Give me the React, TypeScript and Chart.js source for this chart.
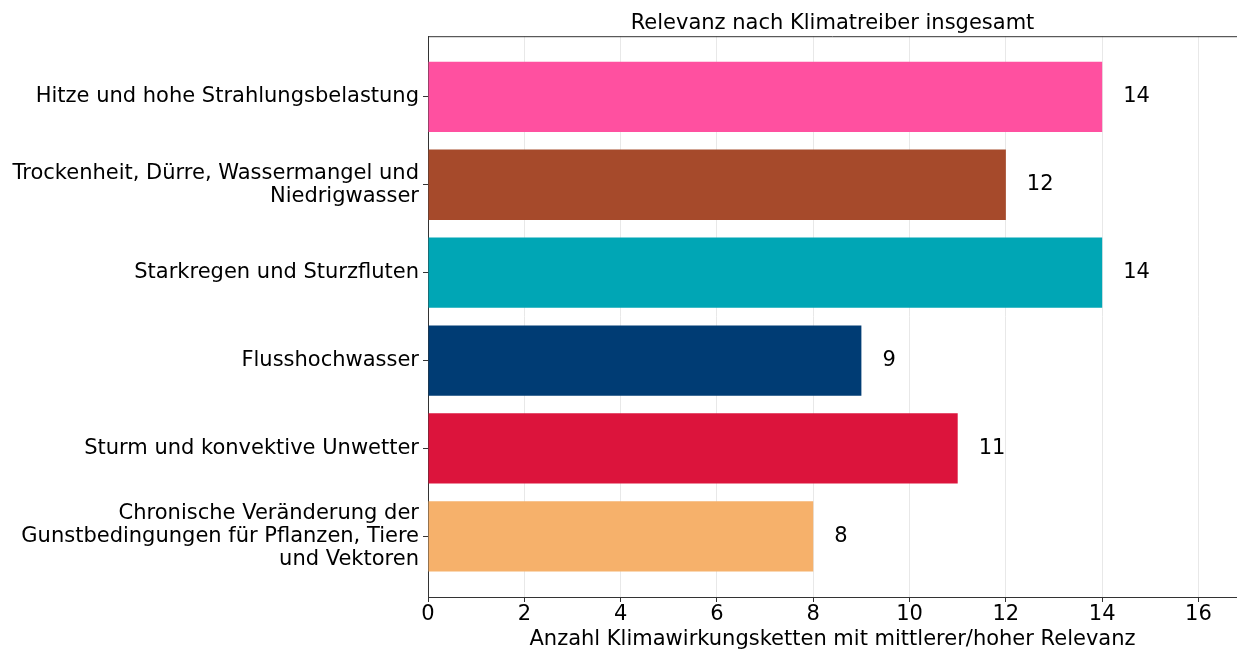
import React, { useEffect, useRef } from "react";
import { Chart, registerables } from "chart.js";

Chart.register(...registerables);

const categories: string[][] = [
  ["Hitze und hohe Strahlungsbelastung"],
  ["Trockenheit, Dürre, Wassermangel und", "Niedrigwasser"],
  ["Starkregen und Sturzfluten"],
  ["Flusshochwasser"],
  ["Sturm und konvektive Unwetter"],
  ["Chronische Veränderung der", "Gunstbedingungen für Pflanzen, Tiere", "und Vektoren"],
];
const values: number[] = [14, 12, 14, 9, 11, 8];
const barColors: string[] = ["#FF50A0", "#A64A2B", "#00A6B5", "#003C74", "#DC143C", "#F6B16B"];
const xTicks: number[] = [0, 2, 4, 6, 8, 10, 12, 14, 16];
const titleText = "Relevanz nach Klimatreiber insgesamt";
const xTitle = "Anzahl Klimawirkungsketten mit mittlerer/hoher Relevanz";

const FONT = "'DejaVu Sans', sans-serif";
const FS = 21;

export default function App() {
  const ref = useRef<HTMLCanvasElement | null>(null);
  useEffect(() => {
    document.body.style.margin = "0";
    const canvas = ref.current!;
    const labelPlugin = {
      id: "extras",
      afterDatasetsDraw(chart: any) {
        const ctx = chart.ctx;
        const area = chart.chartArea;
        ctx.save();
        ctx.strokeStyle = "#333333";
        ctx.lineWidth = 1;
        ctx.beginPath();
        ctx.moveTo(area.left, area.top + 0.5);
        ctx.lineTo(area.right, area.top + 0.5);
        ctx.stroke();
        const meta = chart.getDatasetMeta(0);
        ctx.fillStyle = "#000";
        ctx.font = `${FS}px ${FONT}`;
        ctx.textAlign = "left";
        ctx.textBaseline = "middle";
        meta.data.forEach((bar: any, i: number) => {
          ctx.fillText(String(values[i]), bar.x + 21, bar.y);
        });
        ctx.restore();
      },
    };
    const chart = new Chart(canvas, {
      type: "bar",
      data: {
        datasets: [
          {
            data: values.map((v, i) => ({ x: v, y: i })),
            backgroundColor: barColors,
            borderWidth: 0,
            barPercentage: 0.8,
            categoryPercentage: 1,
          },
        ],
      },
      plugins: [labelPlugin],
      options: {
        indexAxis: "y",
        animation: false,
        responsive: false,
        maintainAspectRatio: false,
        layout: { padding: { left: 0, right: 0, top: 0, bottom: 0 } },
        plugins: {
          legend: { display: false },
          tooltip: { enabled: false },
          title: {
            display: true,
            fullSize: false,
            text: titleText,
            color: "#000",
            font: { family: FONT, size: FS, weight: "normal", lineHeight: 1.2 },
            padding: { top: 11, bottom: 0 },
          },
        },
        scales: {
          x: {
            type: "linear",
            min: 0,
            max: 16.8,
            afterBuildTicks: (scale: any) => {
              scale.ticks = xTicks.map((v) => ({ value: v }));
            },
            afterFit: (scale: any) => {
              scale.height = 54;
            },
            ticks: {
              color: "#000",
              font: { family: FONT, size: FS, lineHeight: 1.1 },
              padding: 1,
              maxRotation: 0,
              autoSkip: false,
            },
            grid: { color: "#e8e8e8", tickColor: "#333", tickLength: 5, lineWidth: 1 },
            border: { display: true, color: "#333", width: 1 },
            title: {
              display: true,
              text: xTitle,
              color: "#000",
              font: { family: FONT, size: FS, lineHeight: 1.1 },
              padding: { top: 0, bottom: 0 },
            },
          },
          y: {
            type: "linear",
            reverse: true,
            offset: false,
            min: -0.69,
            max: 5.69,
            afterBuildTicks: (scale: any) => {
              scale.ticks = categories.map((_, i) => ({ value: i }));
            },
            afterFit: (scale: any) => {
              scale.width = 428;
              scale.paddingTop = 0;
              scale.paddingBottom = 0;
            },
            ticks: {
              color: "#000",
              font: { family: FONT, size: FS, lineHeight: 1.1 },
              padding: 4,
              autoSkip: false,
              callback: (v: any) => categories[Math.round(Number(v))] ?? "",
            },
            grid: { offset: false, drawOnChartArea: false, tickColor: "#333", tickLength: 5 },
            border: { display: true, color: "#333", width: 1 },
          },
        },
      },
    } as any);
    return () => chart.destroy();
  }, []);
  return (
    <div style={{ position: "fixed", left: 0, top: 0, width: 1237, height: 651, background: "#fff" }}>
      <canvas ref={ref} width={1237} height={651} style={{ width: 1237, height: 651 }} />
    </div>
  );
}
